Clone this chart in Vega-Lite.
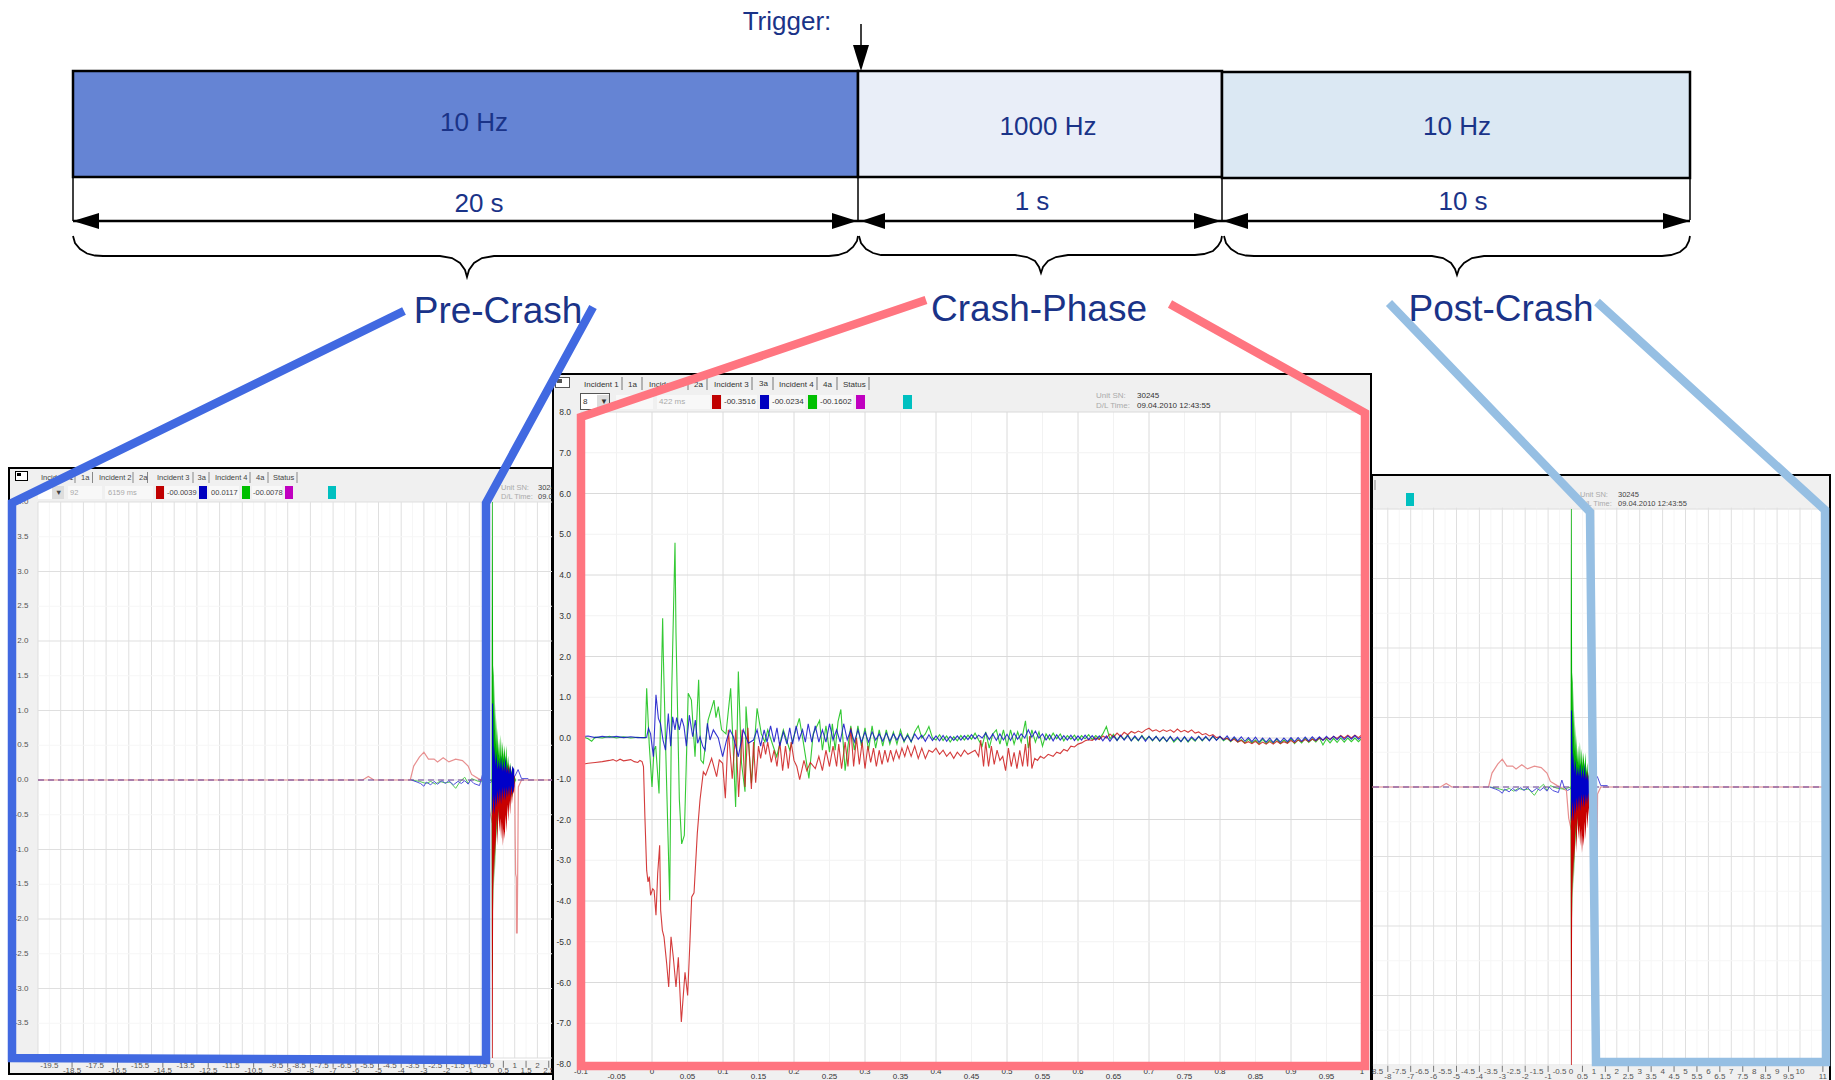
{"$schema":"https://vega.github.io/schema/vega-lite/v6.json","width":1835,"height":1080,"padding":0,"autosize":{"type":"none"},"background":"white","config":{"view":{"stroke":null},"axis":{"disable":true},"legend":{"disable":true},"text":{"font":"Liberation Sans"}},
"resolve":{"scale":{"x":"independent","y":"independent","color":"independent"}},
"datasets":{
"bars":[{"phase":"Pre-Crash","rate":"10 Hz","from":-20,"to":0,"top":71,"bottom":177},{"phase":"Crash-Phase","rate":"1000 Hz","from":0,"to":1,"top":71,"bottom":177},{"phase":"Post-Crash","rate":"10 Hz","from":1,"to":11,"top":72,"bottom":178}],
"drops":[{"t":-20,"v0":177,"v1":221},{"t":0,"v0":177,"v1":221},{"t":1,"v0":177,"v1":221},{"t":11,"v0":178,"v1":220}],
"dims":[{"from":-20,"to":0,"v":221},{"from":0,"to":1,"v":221},{"from":1,"to":11,"v":221}],
"trigger":[{"u":861,"v0":24,"v1":46}],
"heads":[{"id":"a","u":73,"lo":221,"hi":221},{"id":"a","u":99,"lo":213,"hi":229},{"id":"b","u":832,"lo":213,"hi":229},{"id":"b","u":857,"lo":221,"hi":221},{"id":"c","u":861,"lo":221,"hi":221},{"id":"c","u":885,"lo":213,"hi":229},{"id":"d","u":1194,"lo":213,"hi":229},{"id":"d","u":1221,"lo":221,"hi":221},{"id":"e","u":1223,"lo":221,"hi":221},{"id":"e","u":1248,"lo":213,"hi":229},{"id":"f","u":1663,"lo":213,"hi":229},{"id":"f","u":1690,"lo":221,"hi":221},{"id":"g","u":853,"lo":45,"hi":45},{"id":"g","u":861,"lo":45,"hi":71},{"id":"g","u":869,"lo":45,"hi":45}],
"braces":[{"id":"pre","u":73,"v":236},{"id":"pre","u":75,"v":243},{"id":"pre","u":80,"v":249},{"id":"pre","u":87,"v":253.5},{"id":"pre","u":95,"v":255.5},{"id":"pre","u":103,"v":256},{"id":"pre","u":440,"v":256},{"id":"pre","u":452,"v":258},{"id":"pre","u":460,"v":263},{"id":"pre","u":465,"v":270},{"id":"pre","u":467,"v":277},{"id":"pre","u":469,"v":270},{"id":"pre","u":474,"v":263},{"id":"pre","u":482,"v":258},{"id":"pre","u":494,"v":256},{"id":"pre","u":829,"v":256},{"id":"pre","u":838,"v":255},{"id":"pre","u":847,"v":252},{"id":"pre","u":853,"v":247},{"id":"pre","u":857,"v":241},{"id":"pre","u":858,"v":236},
{"id":"crash","u":859,"v":236},{"id":"crash","u":861,"v":243},{"id":"crash","u":866,"v":249},{"id":"crash","u":873,"v":253},{"id":"crash","u":881,"v":255},{"id":"crash","u":889,"v":255},{"id":"crash","u":1015,"v":255},{"id":"crash","u":1027,"v":257},{"id":"crash","u":1035,"v":261},{"id":"crash","u":1039,"v":267},{"id":"crash","u":1041,"v":273},{"id":"crash","u":1043,"v":267},{"id":"crash","u":1048,"v":261},{"id":"crash","u":1056,"v":257},{"id":"crash","u":1068,"v":255},{"id":"crash","u":1195,"v":255},{"id":"crash","u":1204,"v":254},{"id":"crash","u":1213,"v":251},{"id":"crash","u":1218,"v":246},{"id":"crash","u":1221,"v":241},{"id":"crash","u":1222,"v":236},
{"id":"post","u":1224,"v":236},{"id":"post","u":1226,"v":243},{"id":"post","u":1231,"v":249},{"id":"post","u":1238,"v":253.5},{"id":"post","u":1246,"v":255.5},{"id":"post","u":1254,"v":256},{"id":"post","u":1432,"v":256},{"id":"post","u":1443,"v":258},{"id":"post","u":1451,"v":263},{"id":"post","u":1455,"v":269},{"id":"post","u":1457,"v":275},{"id":"post","u":1459,"v":269},{"id":"post","u":1464,"v":263},{"id":"post","u":1472,"v":258},{"id":"post","u":1484,"v":256},{"id":"post","u":1662,"v":256},{"id":"post","u":1671,"v":255},{"id":"post","u":1680,"v":252},{"id":"post","u":1686,"v":247},{"id":"post","u":1689,"v":241},{"id":"post","u":1690,"v":236}],
"label26":[{"label":"Trigger:","u":787,"v":22},{"label":"10 Hz","u":474,"v":123},{"label":"1000 Hz","u":1048,"v":127},{"label":"10 Hz","u":1457,"v":127},{"label":"20 s","u":479,"v":204},{"label":"1 s","u":1032,"v":202},{"label":"10 s","u":1463,"v":202}],
"label37":[{"label":"Pre-Crash","u":498,"v":312},{"label":"Crash-Phase","u":1039,"v":310},{"label":"Post-Crash","u":1501,"v":310}],
"frames":[{"id":"L","u0":9,"u1":552,"v0":468,"v1":1074},{"id":"R","u0":1372,"u1":1830,"v0":475,"v1":1085},{"id":"M","u0":553,"u1":1371,"v0":374,"v1":1085}],
"rectsL":[{"part":"plot","u0":38,"u1":551,"v0":502,"v1":1060},{"part":"black","u0":15,"u1":28,"v0":471,"v1":481},{"part":"plot","u0":16,"u1":27,"v0":472,"v1":480},{"part":"black","u0":17,"u1":21,"v0":473,"v1":476},{"part":"plot","u0":38,"u1":64,"v0":486,"v1":499},{"part":"button","u0":52,"u1":64,"v0":486,"v1":499},{"part":"field","u0":68,"u1":102,"v0":486,"v1":499},{"part":"field","u0":105,"u1":153,"v0":486,"v1":499},{"part":"field","u0":165,"u1":197,"v0":486,"v1":499},{"part":"field","u0":209,"u1":239,"v0":486,"v1":499},{"part":"field","u0":252,"u1":282,"v0":486,"v1":499},{"part":"red","u0":156,"u1":164,"v0":486,"v1":499},{"part":"blue","u0":199,"u1":207,"v0":486,"v1":499},{"part":"green","u0":242,"u1":250,"v0":486,"v1":499},{"part":"magenta","u0":285,"u1":293,"v0":486,"v1":499},{"part":"teal","u0":328,"u1":336,"v0":486,"v1":499}],
"rectsR":[{"part":"plot","u0":1373,"u1":1826,"v0":509.5,"v1":1066},{"part":"teal","u0":1406,"u1":1414,"v0":493,"v1":506}],
"rectsM":[{"part":"plot","u0":581,"u1":1366,"v0":412,"v1":1066},{"part":"black","u0":555,"u1":570,"v0":377,"v1":388},{"part":"plot","u0":556,"u1":569,"v0":378,"v1":387},{"part":"black","u0":557,"u1":562,"v0":379,"v1":383},{"part":"black","u0":580,"u1":610,"v0":393,"v1":410},{"part":"plot","u0":581,"u1":609,"v0":394,"v1":409},{"part":"button","u0":597,"u1":609,"v0":395,"v1":408},{"part":"field","u0":616,"u1":653,"v0":395,"v1":409},{"part":"field","u0":657,"u1":710,"v0":395,"v1":409},{"part":"field","u0":722,"u1":757,"v0":395,"v1":409},{"part":"field","u0":770,"u1":805,"v0":395,"v1":409},{"part":"field","u0":818,"u1":853,"v0":395,"v1":409},{"part":"red","u0":712,"u1":721,"v0":395,"v1":409},{"part":"blue","u0":760,"u1":769,"v0":395,"v1":409},{"part":"green","u0":808,"u1":817,"v0":395,"v1":409},{"part":"magenta","u0":856,"u1":865,"v0":395,"v1":409},{"part":"teal","u0":903,"u1":912,"v0":395,"v1":409}],
"sepsL":[{"u":75},{"u":92.5},{"u":133},{"u":147.5},{"u":193},{"u":209},{"u":250},{"u":268},{"u":297}],
"sepsR":[{"u":1375}],
"sepsM":[{"u":622},{"u":642},{"u":688},{"u":707},{"u":752},{"u":773},{"u":817},{"u":837},{"u":869}],
"textL":[{"label":"Incident 1","u":41,"v":478,"tone":"dark"},{"label":"1a","u":81,"v":478,"tone":"dark"},{"label":"Incident 2","u":99,"v":478,"tone":"dark"},{"label":"2a","u":139,"v":478,"tone":"dark"},{"label":"Incident 3","u":157,"v":478,"tone":"dark"},{"label":"3a","u":197.5,"v":478,"tone":"dark"},{"label":"Incident 4","u":215,"v":478,"tone":"dark"},{"label":"4a","u":256,"v":478,"tone":"dark"},{"label":"Status","u":273,"v":478,"tone":"dark"},{"label":"▼","u":55,"v":492.5,"tone":"dark"},{"label":"92","u":70,"v":492.5,"tone":"grey"},{"label":"6159 ms","u":108,"v":492.5,"tone":"grey"},{"label":"-00.0039","u":167,"v":492.5,"tone":"dark"},{"label":"00.0117","u":211,"v":492.5,"tone":"dark"},{"label":"-00.0078","u":253,"v":492.5,"tone":"dark"},{"label":"Unit SN:","u":501,"v":488,"tone":"grey"},{"label":"30245","u":538,"v":488,"tone":"dark"},{"label":"D/L Time:","u":501,"v":497,"tone":"grey"},{"label":"09.04.2010 12:43:55","u":538,"v":497,"tone":"dark"}],
"textR":[{"label":"Unit SN:","u":1580,"v":495,"tone":"grey"},{"label":"30245","u":1618,"v":495,"tone":"dark"},{"label":"D/L Time:","u":1580,"v":504,"tone":"grey"},{"label":"09.04.2010 12:43:55","u":1618,"v":504,"tone":"dark"}],
"textM":[{"label":"Incident 1","u":584,"v":384.5,"tone":"dark"},{"label":"1a","u":628,"v":384.5,"tone":"dark"},{"label":"Incident 2","u":649,"v":384.5,"tone":"dark"},{"label":"2a","u":694,"v":384.5,"tone":"dark"},{"label":"Incident 3","u":714,"v":384.5,"tone":"dark"},{"label":"3a","u":759,"v":384,"tone":"dark"},{"label":"Incident 4","u":779,"v":384.5,"tone":"dark"},{"label":"4a","u":823,"v":384.5,"tone":"dark"},{"label":"Status","u":843,"v":384.5,"tone":"dark"},{"label":"8","u":583,"v":401.5,"tone":"dark"},{"label":"▼","u":600,"v":402,"tone":"dark"},{"label":"422 ms","u":659,"v":402,"tone":"grey"},{"label":"-00.3516","u":724,"v":402,"tone":"dark"},{"label":"-00.0234","u":772,"v":402,"tone":"dark"},{"label":"-00.1602","u":820,"v":402,"tone":"dark"},{"label":"Unit SN:","u":1096,"v":396,"tone":"grey"},{"label":"30245","u":1137,"v":396,"tone":"dark"},{"label":"D/L Time:","u":1096,"v":406,"tone":"grey"},{"label":"09.04.2010 12:43:55","u":1137,"v":406,"tone":"dark"}],
"longTicks":[{"t":-20,"kind":"major","row":"none"},{"t":-19.5,"kind":"minor","row":"hi"},{"t":-19,"kind":"major","row":"none"},{"t":-18.5,"kind":"minor","row":"low"},{"t":-18,"kind":"major","row":"none"},{"t":-17.5,"kind":"minor","row":"hi"},{"t":-17,"kind":"major","row":"none"},{"t":-16.5,"kind":"minor","row":"low"},{"t":-16,"kind":"major","row":"none"},{"t":-15.5,"kind":"minor","row":"hi"},{"t":-15,"kind":"major","row":"none"},{"t":-14.5,"kind":"minor","row":"low"},{"t":-14,"kind":"major","row":"none"},{"t":-13.5,"kind":"minor","row":"hi"},{"t":-13,"kind":"major","row":"none"},{"t":-12.5,"kind":"minor","row":"low"},{"t":-12,"kind":"major","row":"none"},{"t":-11.5,"kind":"minor","row":"hi"},{"t":-11,"kind":"major","row":"none"},{"t":-10.5,"kind":"minor","row":"low"},{"t":-10,"kind":"major","row":"none"},{"t":-9.5,"kind":"minor","row":"hi"},{"t":-9,"kind":"major","row":"low"},{"t":-8.5,"kind":"minor","row":"hi"},{"t":-8,"kind":"major","row":"low"},{"t":-7.5,"kind":"minor","row":"hi"},{"t":-7,"kind":"major","row":"low"},{"t":-6.5,"kind":"minor","row":"hi"},{"t":-6,"kind":"major","row":"low"},{"t":-5.5,"kind":"minor","row":"hi"},{"t":-5,"kind":"major","row":"low"},{"t":-4.5,"kind":"minor","row":"hi"},{"t":-4,"kind":"major","row":"low"},{"t":-3.5,"kind":"minor","row":"hi"},{"t":-3,"kind":"major","row":"low"},{"t":-2.5,"kind":"minor","row":"hi"},{"t":-2,"kind":"major","row":"low"},{"t":-1.5,"kind":"minor","row":"hi"},{"t":-1,"kind":"major","row":"low"},{"t":-0.5,"kind":"minor","row":"hi"},{"t":0,"kind":"major","row":"hi"},{"t":0.5,"kind":"minor","row":"low"},{"t":1,"kind":"major","row":"hi"},{"t":1.5,"kind":"minor","row":"low"},{"t":2,"kind":"major","row":"hi"},{"t":2.5,"kind":"minor","row":"low"},{"t":3,"kind":"major","row":"hi"},{"t":3.5,"kind":"minor","row":"low"},{"t":4,"kind":"major","row":"hi"},{"t":4.5,"kind":"minor","row":"low"},{"t":5,"kind":"major","row":"hi"},{"t":5.5,"kind":"minor","row":"low"},{"t":6,"kind":"major","row":"hi"},{"t":6.5,"kind":"minor","row":"low"},{"t":7,"kind":"major","row":"hi"},{"t":7.5,"kind":"minor","row":"low"},{"t":8,"kind":"major","row":"hi"},{"t":8.5,"kind":"minor","row":"low"},{"t":9,"kind":"major","row":"hi"},{"t":9.5,"kind":"minor","row":"low"},{"t":10,"kind":"major","row":"hi"},{"t":10.5,"kind":"minor","row":"none"},{"t":11,"kind":"major","row":"low"}],
"longY":[{"g":4,"lab":"4.0","kind":"major"},{"g":3.5,"lab":"3.5","kind":"minor"},{"g":3,"lab":"3.0","kind":"major"},{"g":2.5,"lab":"2.5","kind":"minor"},{"g":2,"lab":"2.0","kind":"major"},{"g":1.5,"lab":"1.5","kind":"minor"},{"g":1,"lab":"1.0","kind":"major"},{"g":0.5,"lab":"0.5","kind":"minor"},{"g":0,"lab":"0.0","kind":"major"},{"g":-0.5,"lab":"-0.5","kind":"minor"},{"g":-1,"lab":"-1.0","kind":"major"},{"g":-1.5,"lab":"-1.5","kind":"minor"},{"g":-2,"lab":"-2.0","kind":"major"},{"g":-2.5,"lab":"-2.5","kind":"minor"},{"g":-3,"lab":"-3.0","kind":"major"},{"g":-3.5,"lab":"-3.5","kind":"minor"},{"g":-4,"lab":"-4.0","kind":"major"}],
"midTicks":[{"t":-0.1,"kind":"major","row":"hi"},{"t":-0.05,"kind":"minor","row":"low"},{"t":0,"kind":"major","row":"hi"},{"t":0.05,"kind":"minor","row":"low"},{"t":0.1,"kind":"major","row":"hi"},{"t":0.15,"kind":"minor","row":"low"},{"t":0.2,"kind":"major","row":"hi"},{"t":0.25,"kind":"minor","row":"low"},{"t":0.3,"kind":"major","row":"hi"},{"t":0.35,"kind":"minor","row":"low"},{"t":0.4,"kind":"major","row":"hi"},{"t":0.45,"kind":"minor","row":"low"},{"t":0.5,"kind":"major","row":"hi"},{"t":0.55,"kind":"minor","row":"low"},{"t":0.6,"kind":"major","row":"hi"},{"t":0.65,"kind":"minor","row":"low"},{"t":0.7,"kind":"major","row":"hi"},{"t":0.75,"kind":"minor","row":"low"},{"t":0.8,"kind":"major","row":"hi"},{"t":0.85,"kind":"minor","row":"low"},{"t":0.9,"kind":"major","row":"hi"},{"t":0.95,"kind":"minor","row":"low"},{"t":1,"kind":"major","row":"hi"}],
"midY":[{"g":8,"lab":"8.0","kind":"major"},{"g":7,"lab":"7.0","kind":"minor"},{"g":6,"lab":"6.0","kind":"major"},{"g":5,"lab":"5.0","kind":"minor"},{"g":4,"lab":"4.0","kind":"major"},{"g":3,"lab":"3.0","kind":"minor"},{"g":2,"lab":"2.0","kind":"major"},{"g":1,"lab":"1.0","kind":"minor"},{"g":0,"lab":"0.0","kind":"major"},{"g":-1,"lab":"-1.0","kind":"minor"},{"g":-2,"lab":"-2.0","kind":"major"},{"g":-3,"lab":"-3.0","kind":"minor"},{"g":-4,"lab":"-4.0","kind":"major"},{"g":-5,"lab":"-5.0","kind":"minor"},{"g":-6,"lab":"-6.0","kind":"major"},{"g":-7,"lab":"-7.0","kind":"minor"},{"g":-8,"lab":"-8.0","kind":"major"}],
"recPale":[{"t":-20,"g":0},{"t":-5.7,"g":0},{"t":-5.45,"g":0.05},{"t":-5.2,"g":0},{"t":-3.6,"g":0},{"t":-3.45,"g":0.2},{"t":-3.2,"g":0.33},{"t":-3,"g":0.4},{"t":-2.8,"g":0.3},{"t":-2.55,"g":0.3},{"t":-2.4,"g":0.26},{"t":-2.15,"g":0.32},{"t":-1.9,"g":0.26},{"t":-1.6,"g":0.3},{"t":-1.3,"g":0.28},{"t":-1.05,"g":0.2},{"t":-0.9,"g":0.08},{"t":-0.6,"g":0.02},{"t":-0.2,"g":-0.05},{"t":-0.1,"g":-0.45},{"t":0,"g":-0.6},{"t":1,"g":-0.05},{"t":1.02,"g":-0.8},{"t":1.04,"g":-1.35},{"t":1.07,"g":-1.4},{"t":1.08,"g":-2.2},{"t":1.11,"g":-2.2},{"t":1.14,"g":-1},{"t":1.16,"g":-0.1},{"t":1.3,"g":0},{"t":11,"g":0}],
"recFlat":[{"t":-20,"g":0},{"t":-3.55,"g":0},{"t":1.6,"g":0},{"t":11,"g":0}],
"recBlue":[{"t":-3.55,"g":0},{"t":-3.3,"g":-0.03},{"t":-3.15,"g":-0.05},{"t":-3,"g":-0.09},{"t":-2.9,"g":-0.03},{"t":-2.7,"g":-0.07},{"t":-2.55,"g":-0.02},{"t":-2.4,"g":-0.06},{"t":-2.2,"g":-0.01},{"t":-2.05,"g":-0.05},{"t":-1.9,"g":-0.01},{"t":-1.7,"g":-0.07},{"t":-1.5,"g":-0.02},{"t":-1.35,"g":-0.05},{"t":-1.2,"g":-0.01},{"t":-1.05,"g":-0.06},{"t":-0.95,"g":0},{"t":-0.8,"g":-0.05},{"t":-0.55,"g":-0.08},{"t":-0.4,"g":0.1},{"t":-0.3,"g":0},{"t":-0.15,"g":-0.05},{"t":0,"g":-0.02},{"t":1,"g":0.05},{"t":1.15,"g":0.15},{"t":1.3,"g":0.02},{"t":1.6,"g":0.02}],
"recGreen":[{"t":-3.55,"g":0},{"t":-3.2,"g":-0.02},{"t":-2.9,"g":-0.05},{"t":-2.7,"g":-0.02},{"t":-2.5,"g":-0.06},{"t":-2.3,"g":-0.02},{"t":-2.1,"g":-0.04},{"t":-1.85,"g":-0.03},{"t":-1.6,"g":-0.12},{"t":-1.4,"g":-0.02},{"t":-1.2,"g":0.04},{"t":-1.05,"g":-0.05},{"t":-0.9,"g":0.02},{"t":-0.6,"g":-0.02},{"t":-0.3,"g":-0.03},{"t":0,"g":0}],
"envG":[{"t":-0.02,"lo":0,"hi":0},{"t":0,"lo":-2.7,"hi":4},{"t":0.03,"lo":-2.8,"hi":4},{"t":0.05,"lo":-1,"hi":1.5},{"t":0.07,"lo":-1.9,"hi":1.65},{"t":0.09,"lo":-1,"hi":0.9},{"t":0.11,"lo":-1.5,"hi":1.45},{"t":0.13,"lo":-0.8,"hi":0.7},{"t":0.15,"lo":-1.3,"hi":1.1},{"t":0.17,"lo":-0.6,"hi":0.5},{"t":0.19,"lo":-0.9,"hi":0.9},{"t":0.22,"lo":-0.5,"hi":0.4},{"t":0.25,"lo":-0.8,"hi":0.75},{"t":0.28,"lo":-0.4,"hi":0.35},{"t":0.31,"lo":-0.6,"hi":0.6},{"t":0.35,"lo":-0.3,"hi":0.3},{"t":0.39,"lo":-0.45,"hi":0.65},{"t":0.43,"lo":-0.3,"hi":0.3},{"t":0.47,"lo":-0.5,"hi":0.55},{"t":0.51,"lo":-0.25,"hi":0.3},{"t":0.55,"lo":-0.55,"hi":0.5},{"t":0.59,"lo":-0.25,"hi":0.25},{"t":0.63,"lo":-0.45,"hi":0.5},{"t":0.67,"lo":-0.2,"hi":0.2},{"t":0.71,"lo":-0.35,"hi":0.35},{"t":0.75,"lo":-0.15,"hi":0.15},{"t":0.8,"lo":-0.3,"hi":0.25},{"t":0.85,"lo":-0.1,"hi":0.1},{"t":0.9,"lo":-0.25,"hi":0.2},{"t":0.95,"lo":-0.05,"hi":0.05},{"t":1,"lo":-0.05,"hi":0.05},{"t":1.05,"lo":0,"hi":0}],
"envR":[{"t":-0.01,"lo":-0.5,"hi":-0.4},{"t":0,"lo":-4,"hi":-0.1},{"t":0.03,"lo":-4,"hi":0},{"t":0.04,"lo":-2.6,"hi":0.1},{"t":0.06,"lo":-1.1,"hi":0.15},{"t":0.08,"lo":-1.6,"hi":0.2},{"t":0.1,"lo":-0.9,"hi":0.05},{"t":0.12,"lo":-1.4,"hi":0.2},{"t":0.14,"lo":-0.8,"hi":0.1},{"t":0.16,"lo":-1.1,"hi":0.2},{"t":0.2,"lo":-0.5,"hi":0.05},{"t":0.24,"lo":-0.95,"hi":0.2},{"t":0.28,"lo":-0.4,"hi":0.05},{"t":0.32,"lo":-0.75,"hi":0.2},{"t":0.36,"lo":-0.55,"hi":0.05},{"t":0.4,"lo":-0.85,"hi":0.15},{"t":0.44,"lo":-0.6,"hi":0.05},{"t":0.48,"lo":-0.95,"hi":0.2},{"t":0.52,"lo":-0.7,"hi":0.05},{"t":0.56,"lo":-0.85,"hi":0.2},{"t":0.6,"lo":-0.5,"hi":0.05},{"t":0.64,"lo":-0.75,"hi":0.2},{"t":0.68,"lo":-0.35,"hi":0.05},{"t":0.72,"lo":-0.6,"hi":0.25},{"t":0.76,"lo":-0.3,"hi":0.05},{"t":0.8,"lo":-0.5,"hi":0.2},{"t":0.84,"lo":-0.2,"hi":0.05},{"t":0.88,"lo":-0.35,"hi":0.1},{"t":0.92,"lo":-0.15,"hi":0.02},{"t":0.96,"lo":-0.2,"hi":0.08},{"t":1,"lo":-0.05,"hi":0.05}],
"envB":[{"t":0,"lo":-0.5,"hi":1.1},{"t":0.04,"lo":-0.4,"hi":1.1},{"t":0.06,"lo":-0.2,"hi":0.65},{"t":0.09,"lo":-0.35,"hi":0.3},{"t":0.12,"lo":-0.5,"hi":0.5},{"t":0.16,"lo":-0.2,"hi":0.2},{"t":0.2,"lo":-0.4,"hi":0.4},{"t":0.25,"lo":-0.15,"hi":0.15},{"t":0.3,"lo":-0.35,"hi":0.3},{"t":0.35,"lo":-0.12,"hi":0.15},{"t":0.4,"lo":-0.35,"hi":0.35},{"t":0.45,"lo":-0.1,"hi":0.12},{"t":0.5,"lo":-0.3,"hi":0.3},{"t":0.55,"lo":-0.1,"hi":0.12},{"t":0.6,"lo":-0.3,"hi":0.35},{"t":0.65,"lo":-0.1,"hi":0.1},{"t":0.7,"lo":-0.25,"hi":0.2},{"t":0.75,"lo":-0.08,"hi":0.08},{"t":0.8,"lo":-0.25,"hi":0.22},{"t":0.85,"lo":-0.08,"hi":0.08},{"t":0.9,"lo":-0.2,"hi":0.2},{"t":0.98,"lo":-0.1,"hi":0.15}],
"midRed":[{"t":-0.1,"g":-0.65},{"t":-0.09,"g":-0.62},{"t":-0.08,"g":-0.6},{"t":-0.07,"g":-0.58},{"t":-0.06,"g":-0.55},{"t":-0.055,"g":-0.53},{"t":-0.05,"g":-0.57},{"t":-0.045,"g":-0.52},{"t":-0.04,"g":-0.56},{"t":-0.03,"g":-0.53},{"t":-0.025,"g":-0.58},{"t":-0.02,"g":-0.6},{"t":-0.017,"g":-0.55},{"t":-0.014,"g":-0.58},{"t":-0.012,"g":-0.7},{"t":-0.01,"g":-1.93},{"t":-0.0075,"g":-3.25},{"t":-0.0056,"g":-3.53},{"t":-0.0038,"g":-3.4},{"t":-0.002,"g":-3.86},{"t":0.001,"g":-3.7},{"t":0.003,"g":-3.74},{"t":0.0056,"g":-4.35},{"t":0.008,"g":-3.33},{"t":0.0108,"g":-2.63},{"t":0.0122,"g":-4.23},{"t":0.0146,"g":-4.72},{"t":0.0169,"g":-4.88},{"t":0.0207,"g":-5.54},{"t":0.0235,"g":-6.11},{"t":0.0268,"g":-4.88},{"t":0.03,"g":-5.38},{"t":0.0338,"g":-6.11},{"t":0.0371,"g":-5.38},{"t":0.0413,"g":-6.97},{"t":0.0465,"g":-5.75},{"t":0.0502,"g":-6.32},{"t":0.0535,"g":-4.97},{"t":0.0559,"g":-3.9},{"t":0.0592,"g":-3.8},{"t":0.0638,"g":-2.34},{"t":0.0676,"g":-1.52},{"t":0.0723,"g":-0.83},{"t":0.0756,"g":-0.91},{"t":0.084,"g":-0.5},{"t":0.091,"g":-0.95},{"t":0.0948,"g":-0.54},{"t":0.0995,"g":-0.62},{"t":0.1033,"g":-1.48},{"t":0.1075,"g":0.2},{"t":0.113,"g":-1},{"t":0.118,"g":0.2},{"t":0.122,"g":-1.45},{"t":0.127,"g":0.2},{"t":0.131,"g":-1.2},{"t":0.135,"g":0.25},{"t":0.14,"g":-1.25},{"t":0.143,"g":-0.1},{"t":0.146,"g":-1.1},{"t":0.15,"g":-0.2},{"t":0.153,"g":-0.5},{"t":0.157,"g":-0.1},{"t":0.16,"g":-0.4},{"t":0.163,"g":-0.1},{"t":0.168,"g":-0.6},{"t":0.172,"g":-0.3},{"t":0.176,"g":-0.7},{"t":0.18,"g":-0.1},{"t":0.184,"g":-0.8},{"t":0.188,"g":-0.2},{"t":0.192,"g":-0.75},{"t":0.196,"g":-0.1},{"t":0.2,"g":-0.55},{"t":0.204,"g":-0.7},{"t":0.208,"g":-1.02},{"t":0.214,"g":-0.55},{"t":0.218,"g":-0.8},{"t":0.223,"g":-0.6},{"t":0.23,"g":-0.75},{"t":0.235,"g":-0.45},{"t":0.24,"g":-0.8},{"t":0.245,"g":-0.3},{"t":0.25,"g":-0.7},{"t":0.255,"g":-0.2},{"t":0.26,"g":-0.7},{"t":0.263,"g":-0.15},{"t":0.267,"g":-0.75},{"t":0.272,"g":-0.1},{"t":0.276,"g":-0.7},{"t":0.28,"g":0.25},{"t":0.284,"g":-0.7},{"t":0.288,"g":0},{"t":0.292,"g":-0.65},{"t":0.296,"g":-0.1},{"t":0.3,"g":-0.75},{"t":0.304,"g":-0.2},{"t":0.308,"g":-0.6},{"t":0.312,"g":-0.25},{"t":0.316,"g":-0.7},{"t":0.32,"g":-0.3},{"t":0.324,"g":-0.65},{"t":0.328,"g":-0.3},{"t":0.332,"g":-0.6},{"t":0.336,"g":-0.3},{"t":0.34,"g":-0.55},{"t":0.344,"g":-0.3},{"t":0.348,"g":-0.5},{"t":0.352,"g":-0.25},{"t":0.356,"g":-0.45},{"t":0.36,"g":-0.2},{"t":0.365,"g":-0.45},{"t":0.37,"g":-0.2},{"t":0.375,"g":-0.5},{"t":0.38,"g":-0.25},{"t":0.385,"g":-0.5},{"t":0.39,"g":-0.3},{"t":0.395,"g":-0.35},{"t":0.4,"g":-0.25},{"t":0.405,"g":-0.4},{"t":0.41,"g":-0.3},{"t":0.415,"g":-0.45},{"t":0.42,"g":-0.35},{"t":0.425,"g":-0.5},{"t":0.43,"g":-0.35},{"t":0.435,"g":-0.45},{"t":0.44,"g":-0.3},{"t":0.445,"g":-0.4},{"t":0.45,"g":-0.35},{"t":0.455,"g":-0.3},{"t":0.46,"g":-0.45},{"t":0.463,"g":-0.05},{"t":0.467,"g":-0.7},{"t":0.47,"g":-0.1},{"t":0.474,"g":-0.7},{"t":0.478,"g":-0.2},{"t":0.482,"g":-0.65},{"t":0.486,"g":-0.3},{"t":0.49,"g":-0.55},{"t":0.494,"g":-0.45},{"t":0.498,"g":-0.8},{"t":0.502,"g":-0.25},{"t":0.506,"g":-0.7},{"t":0.51,"g":-0.35},{"t":0.514,"g":-0.75},{"t":0.518,"g":-0.3},{"t":0.522,"g":-0.7},{"t":0.526,"g":-0.15},{"t":0.529,"g":-0.7},{"t":0.532,"g":0.05},{"t":0.535,"g":-0.75},{"t":0.539,"g":-0.5},{"t":0.543,"g":-0.55},{"t":0.547,"g":-0.45},{"t":0.552,"g":-0.5},{"t":0.558,"g":-0.4},{"t":0.565,"g":-0.45},{"t":0.57,"g":-0.35},{"t":0.575,"g":-0.38},{"t":0.58,"g":-0.28},{"t":0.585,"g":-0.32},{"t":0.59,"g":-0.2},{"t":0.595,"g":-0.22},{"t":0.6,"g":-0.15},{"t":0.605,"g":-0.12},{"t":0.61,"g":-0.07},{"t":0.615,"g":-0.04},{"t":0.62,"g":-0.06},{"t":0.625,"g":0},{"t":0.63,"g":-0.04},{"t":0.635,"g":0.05},{"t":0.64,"g":0},{"t":0.645,"g":0.1},{"t":0.65,"g":0.02},{"t":0.655,"g":0.12},{"t":0.66,"g":0.04},{"t":0.665,"g":0.14},{"t":0.67,"g":0.08},{"t":0.675,"g":0.16},{"t":0.68,"g":0.12},{"t":0.685,"g":0.17},{"t":0.69,"g":0.13},{"t":0.695,"g":0.2},{"t":0.7,"g":0.24},{"t":0.705,"g":0.17},{"t":0.71,"g":0.2},{"t":0.715,"g":0.15},{"t":0.72,"g":0.2},{"t":0.725,"g":0.16},{"t":0.73,"g":0.2},{"t":0.735,"g":0.14},{"t":0.74,"g":0.22},{"t":0.745,"g":0.15},{"t":0.75,"g":0.19},{"t":0.755,"g":0.14},{"t":0.76,"g":0.2},{"t":0.765,"g":0.12},{"t":0.77,"g":0.15},{"t":0.775,"g":0.08},{"t":0.78,"g":0.11},{"t":0.785,"g":0.05},{"t":0.79,"g":0.08},{"t":0.795,"g":0.01},{"t":0.8,"g":0.03},{"t":0.805,"g":-0.03},{"t":0.81,"g":-0.01},{"t":0.815,"g":-0.07},{"t":0.82,"g":-0.03},{"t":0.825,"g":-0.1},{"t":0.83,"g":-0.06},{"t":0.835,"g":-0.13},{"t":0.84,"g":-0.09},{"t":0.845,"g":-0.14},{"t":0.85,"g":-0.08},{"t":0.855,"g":-0.16},{"t":0.86,"g":-0.1},{"t":0.865,"g":-0.15},{"t":0.87,"g":-0.09},{"t":0.875,"g":-0.15},{"t":0.88,"g":-0.08},{"t":0.885,"g":-0.14},{"t":0.89,"g":-0.09},{"t":0.895,"g":-0.13},{"t":0.9,"g":-0.06},{"t":0.905,"g":-0.12},{"t":0.91,"g":-0.05},{"t":0.915,"g":-0.09},{"t":0.92,"g":-0.04},{"t":0.925,"g":-0.09},{"t":0.93,"g":-0.03},{"t":0.935,"g":-0.07},{"t":0.94,"g":0},{"t":0.945,"g":-0.05},{"t":0.95,"g":0.01},{"t":0.955,"g":-0.03},{"t":0.96,"g":0.04},{"t":0.965,"g":-0.01},{"t":0.97,"g":0.06},{"t":0.975,"g":0},{"t":0.98,"g":0.07},{"t":0.985,"g":0},{"t":0.99,"g":0.07},{"t":0.995,"g":0.01},{"t":1,"g":0.08}],
"midGreen":[{"t":-0.1,"g":0.05},{"t":-0.09,"g":-0.02},{"t":-0.085,"g":-0.08},{"t":-0.08,"g":0.02},{"t":-0.07,"g":0},{"t":-0.06,"g":0.04},{"t":-0.05,"g":0},{"t":-0.04,"g":0.03},{"t":-0.03,"g":0},{"t":-0.02,"g":0.02},{"t":-0.0095,"g":0},{"t":-0.0075,"g":1.22},{"t":-0.004,"g":-0.13},{"t":0,"g":-1.2},{"t":0.0028,"g":-0.3},{"t":0.0052,"g":-0.2},{"t":0.0099,"g":-1.36},{"t":0.015,"g":2.94},{"t":0.016,"g":2},{"t":0.0192,"g":-0.2},{"t":0.0249,"g":-3.98},{"t":0.0277,"g":1.1},{"t":0.0324,"g":4.79},{"t":0.0338,"g":2.57},{"t":0.0385,"g":-1.5},{"t":0.0418,"g":-2.6},{"t":0.0455,"g":-2.39},{"t":0.051,"g":1.1},{"t":0.0555,"g":0.93},{"t":0.0606,"g":-0.46},{"t":0.0657,"g":1.43},{"t":0.0688,"g":-0.54},{"t":0.0723,"g":-0.62},{"t":0.079,"g":0.44},{"t":0.0873,"g":0.93},{"t":0.0901,"g":0.5},{"t":0.0934,"g":0.77},{"t":0.098,"g":0.2},{"t":0.1042,"g":0.1},{"t":0.1108,"g":1.22},{"t":0.1178,"g":-1.69},{"t":0.1216,"g":1.63},{"t":0.126,"g":-0.6},{"t":0.131,"g":-1.32},{"t":0.1324,"g":0.77},{"t":0.14,"g":-1.11},{"t":0.148,"g":0.73},{"t":0.154,"g":0.1},{"t":0.159,"g":-0.1},{"t":0.163,"g":0.2},{"t":0.1756,"g":-0.46},{"t":0.185,"g":0.2},{"t":0.194,"g":-0.3},{"t":0.2075,"g":0.48},{"t":0.2131,"g":-0.1},{"t":0.221,"g":-0.99},{"t":0.227,"g":0.1},{"t":0.236,"g":0.43},{"t":0.24,"g":-0.3},{"t":0.245,"g":0.3},{"t":0.25,"g":-0.35},{"t":0.254,"g":0.35},{"t":0.258,"g":-0.3},{"t":0.262,"g":0.4},{"t":0.266,"g":0.7},{"t":0.272,"g":-0.8},{"t":0.276,"g":-0.2},{"t":0.28,"g":0.3},{"t":0.285,"g":-0.3},{"t":0.29,"g":0.3},{"t":0.295,"g":-0.2},{"t":0.3,"g":0.25},{"t":0.305,"g":-0.3},{"t":0.31,"g":0.3},{"t":0.315,"g":-0.25},{"t":0.32,"g":0.2},{"t":0.325,"g":-0.2},{"t":0.33,"g":0.2},{"t":0.335,"g":-0.15},{"t":0.34,"g":0.15},{"t":0.345,"g":-0.15},{"t":0.35,"g":0.2},{"t":0.355,"g":-0.1},{"t":0.36,"g":0.1},{"t":0.365,"g":-0.1},{"t":0.37,"g":0.15},{"t":0.375,"g":0.3},{"t":0.38,"g":0},{"t":0.385,"g":0.1},{"t":0.39,"g":0.28},{"t":0.395,"g":0},{"t":0.4,"g":-0.05},{"t":0.405,"g":0.08},{"t":0.41,"g":-0.06},{"t":0.415,"g":0.05},{"t":0.42,"g":-0.1},{"t":0.425,"g":0.03},{"t":0.43,"g":-0.07},{"t":0.435,"g":0.06},{"t":0.44,"g":-0.05},{"t":0.445,"g":0.07},{"t":0.45,"g":-0.03},{"t":0.455,"g":0.12},{"t":0.46,"g":-0.05},{"t":0.465,"g":-0.2},{"t":0.47,"g":0.15},{"t":0.475,"g":-0.25},{"t":0.48,"g":0.1},{"t":0.485,"g":0.2},{"t":0.49,"g":-0.15},{"t":0.495,"g":0.2},{"t":0.5,"g":-0.2},{"t":0.505,"g":0.2},{"t":0.51,"g":-0.15},{"t":0.515,"g":0.15},{"t":0.52,"g":-0.1},{"t":0.526,"g":0.42},{"t":0.53,"g":-0.25},{"t":0.535,"g":0.2},{"t":0.54,"g":-0.1},{"t":0.545,"g":0.15},{"t":0.55,"g":-0.2},{"t":0.555,"g":0.1},{"t":0.56,"g":-0.04},{"t":0.565,"g":0.12},{"t":0.57,"g":-0.02},{"t":0.575,"g":0.1},{"t":0.58,"g":-0.07},{"t":0.585,"g":0.06},{"t":0.59,"g":-0.03},{"t":0.595,"g":0.07},{"t":0.6,"g":-0.06},{"t":0.605,"g":0.06},{"t":0.61,"g":-0.02},{"t":0.615,"g":0.08},{"t":0.62,"g":-0.04},{"t":0.625,"g":0.06},{"t":0.63,"g":-0.02},{"t":0.635,"g":0.1},{"t":0.64,"g":0.28},{"t":0.645,"g":-0.02},{"t":0.65,"g":0.09},{"t":0.655,"g":-0.06},{"t":0.66,"g":0.06},{"t":0.665,"g":-0.04},{"t":0.67,"g":0.08},{"t":0.675,"g":-0.07},{"t":0.68,"g":0.03},{"t":0.685,"g":-0.07},{"t":0.69,"g":0.06},{"t":0.695,"g":-0.05},{"t":0.7,"g":0.04},{"t":0.705,"g":-0.07},{"t":0.71,"g":0.04},{"t":0.715,"g":-0.08},{"t":0.72,"g":0.02},{"t":0.725,"g":-0.09},{"t":0.73,"g":0.03},{"t":0.735,"g":-0.1},{"t":0.74,"g":-0.01},{"t":0.745,"g":-0.09},{"t":0.75,"g":0.02},{"t":0.755,"g":-0.1},{"t":0.76,"g":0},{"t":0.765,"g":-0.08},{"t":0.77,"g":0.04},{"t":0.775,"g":-0.07},{"t":0.78,"g":0.02},{"t":0.785,"g":-0.06},{"t":0.79,"g":0.04},{"t":0.795,"g":-0.05},{"t":0.8,"g":0.03},{"t":0.805,"g":-0.07},{"t":0.81,"g":0},{"t":0.815,"g":-0.09},{"t":0.82,"g":0},{"t":0.825,"g":-0.1},{"t":0.83,"g":-0.04},{"t":0.835,"g":-0.12},{"t":0.84,"g":-0.03},{"t":0.845,"g":-0.12},{"t":0.85,"g":-0.05},{"t":0.855,"g":-0.14},{"t":0.86,"g":-0.03},{"t":0.865,"g":-0.14},{"t":0.87,"g":-0.05},{"t":0.875,"g":-0.13},{"t":0.88,"g":-0.03},{"t":0.885,"g":-0.14},{"t":0.89,"g":-0.05},{"t":0.895,"g":-0.12},{"t":0.9,"g":-0.02},{"t":0.905,"g":-0.14},{"t":0.91,"g":-0.04},{"t":0.915,"g":-0.12},{"t":0.92,"g":-0.01},{"t":0.925,"g":-0.11},{"t":0.93,"g":-0.02},{"t":0.935,"g":-0.1},{"t":0.94,"g":0},{"t":0.945,"g":-0.17},{"t":0.95,"g":-0.02},{"t":0.955,"g":-0.12},{"t":0.96,"g":-0.01},{"t":0.965,"g":-0.11},{"t":0.97,"g":0},{"t":0.975,"g":-0.1},{"t":0.98,"g":0},{"t":0.985,"g":-0.09},{"t":0.99,"g":0},{"t":0.995,"g":-0.09},{"t":1,"g":0}],
"midBlue":[{"t":-0.1,"g":0.03},{"t":-0.09,"g":0.05},{"t":-0.08,"g":0.01},{"t":-0.07,"g":0.04},{"t":-0.06,"g":0.02},{"t":-0.05,"g":0.04},{"t":-0.04,"g":0.01},{"t":-0.03,"g":0.03},{"t":-0.02,"g":0.01},{"t":-0.012,"g":0.01},{"t":-0.0075,"g":0.02},{"t":-0.005,"g":0.24},{"t":-0.002,"g":0.1},{"t":0.002,"g":-0.46},{"t":0.0056,"g":1.06},{"t":0.009,"g":0.48},{"t":0.012,"g":0.35},{"t":0.0155,"g":-0.05},{"t":0.019,"g":-0.3},{"t":0.023,"g":0.6},{"t":0.0263,"g":-0.2},{"t":0.0291,"g":0.52},{"t":0.0324,"g":0.2},{"t":0.0347,"g":0.5},{"t":0.0385,"g":0.2},{"t":0.0418,"g":0.48},{"t":0.0451,"g":0.28},{"t":0.0484,"g":-0.2},{"t":0.0526,"g":0.56},{"t":0.0573,"g":0.03},{"t":0.061,"g":0.44},{"t":0.0643,"g":-0.13},{"t":0.0676,"g":0.03},{"t":0.0714,"g":-0.2},{"t":0.0747,"g":-0.3},{"t":0.078,"g":0.36},{"t":0.0817,"g":-0.05},{"t":0.0864,"g":0.2},{"t":0.0934,"g":0},{"t":0.0995,"g":-0.46},{"t":0.105,"g":-0.05},{"t":0.1098,"g":0.2},{"t":0.1146,"g":0.03},{"t":0.1216,"g":-0.46},{"t":0.1286,"g":0.2},{"t":0.1357,"g":-0.13},{"t":0.143,"g":-0.05},{"t":0.148,"g":0.2},{"t":0.153,"g":-0.2},{"t":0.158,"g":0.2},{"t":0.162,"g":-0.1},{"t":0.167,"g":0.3},{"t":0.172,"g":-0.1},{"t":0.176,"g":0.25},{"t":0.18,"g":-0.2},{"t":0.185,"g":0.15},{"t":0.19,"g":-0.15},{"t":0.194,"g":0.25},{"t":0.198,"g":-0.15},{"t":0.203,"g":0.3},{"t":0.207,"g":-0.05},{"t":0.212,"g":0.2},{"t":0.216,"g":-0.1},{"t":0.22,"g":0.35},{"t":0.225,"g":-0.1},{"t":0.23,"g":0.3},{"t":0.235,"g":-0.1},{"t":0.24,"g":0.2},{"t":0.245,"g":-0.1},{"t":0.25,"g":0.35},{"t":0.255,"g":-0.05},{"t":0.26,"g":0.2},{"t":0.265,"g":-0.1},{"t":0.27,"g":0.35},{"t":0.275,"g":-0.05},{"t":0.28,"g":0.2},{"t":0.285,"g":-0.1},{"t":0.29,"g":0.2},{"t":0.295,"g":-0.1},{"t":0.3,"g":0.15},{"t":0.305,"g":-0.1},{"t":0.31,"g":0.15},{"t":0.315,"g":-0.05},{"t":0.32,"g":0.1},{"t":0.325,"g":-0.08},{"t":0.33,"g":0.12},{"t":0.335,"g":-0.08},{"t":0.34,"g":0.1},{"t":0.345,"g":-0.05},{"t":0.35,"g":0.1},{"t":0.355,"g":-0.07},{"t":0.36,"g":0.06},{"t":0.365,"g":-0.09},{"t":0.37,"g":0.1},{"t":0.375,"g":-0.03},{"t":0.38,"g":0.07},{"t":0.385,"g":-0.08},{"t":0.39,"g":0.08},{"t":0.395,"g":-0.06},{"t":0.4,"g":0.05},{"t":0.405,"g":-0.07},{"t":0.41,"g":0.06},{"t":0.415,"g":-0.08},{"t":0.42,"g":0.04},{"t":0.425,"g":-0.06},{"t":0.43,"g":0.05},{"t":0.435,"g":-0.05},{"t":0.44,"g":0.06},{"t":0.445,"g":-0.04},{"t":0.45,"g":0.08},{"t":0.455,"g":-0.02},{"t":0.46,"g":0.07},{"t":0.465,"g":0},{"t":0.47,"g":0.12},{"t":0.475,"g":-0.04},{"t":0.48,"g":0.1},{"t":0.485,"g":-0.06},{"t":0.49,"g":0.1},{"t":0.495,"g":-0.05},{"t":0.5,"g":0.09},{"t":0.505,"g":-0.06},{"t":0.51,"g":0.12},{"t":0.515,"g":-0.03},{"t":0.52,"g":0.1},{"t":0.525,"g":0},{"t":0.53,"g":0.2},{"t":0.535,"g":0.02},{"t":0.54,"g":0.17},{"t":0.545,"g":0},{"t":0.55,"g":0.1},{"t":0.555,"g":-0.05},{"t":0.56,"g":0.08},{"t":0.565,"g":-0.07},{"t":0.57,"g":0.08},{"t":0.575,"g":-0.05},{"t":0.58,"g":0.06},{"t":0.585,"g":-0.05},{"t":0.59,"g":0.07},{"t":0.595,"g":-0.06},{"t":0.6,"g":0.05},{"t":0.605,"g":-0.05},{"t":0.61,"g":0.07},{"t":0.615,"g":-0.04},{"t":0.62,"g":0.06},{"t":0.625,"g":-0.05},{"t":0.63,"g":0.05},{"t":0.635,"g":-0.07},{"t":0.64,"g":0.05},{"t":0.645,"g":-0.08},{"t":0.65,"g":0.05},{"t":0.655,"g":-0.06},{"t":0.66,"g":0.07},{"t":0.665,"g":-0.05},{"t":0.67,"g":0.06},{"t":0.675,"g":-0.07},{"t":0.68,"g":0.05},{"t":0.685,"g":-0.06},{"t":0.69,"g":0.05},{"t":0.695,"g":-0.08},{"t":0.7,"g":0.04},{"t":0.705,"g":-0.06},{"t":0.71,"g":0.04},{"t":0.715,"g":-0.07},{"t":0.72,"g":0.03},{"t":0.725,"g":-0.08},{"t":0.73,"g":0.04},{"t":0.735,"g":-0.07},{"t":0.74,"g":0.02},{"t":0.745,"g":-0.09},{"t":0.75,"g":0.03},{"t":0.755,"g":-0.08},{"t":0.76,"g":0.03},{"t":0.765,"g":-0.06},{"t":0.77,"g":0.04},{"t":0.775,"g":-0.06},{"t":0.78,"g":0.04},{"t":0.785,"g":-0.07},{"t":0.79,"g":0.05},{"t":0.795,"g":-0.06},{"t":0.8,"g":0.04},{"t":0.805,"g":-0.05},{"t":0.81,"g":0.05},{"t":0.815,"g":-0.07},{"t":0.82,"g":0.03},{"t":0.825,"g":-0.07},{"t":0.83,"g":0.03},{"t":0.835,"g":-0.08},{"t":0.84,"g":0.01},{"t":0.845,"g":-0.09},{"t":0.85,"g":0.02},{"t":0.855,"g":-0.1},{"t":0.86,"g":0},{"t":0.865,"g":-0.1},{"t":0.87,"g":0},{"t":0.875,"g":-0.11},{"t":0.88,"g":-0.01},{"t":0.885,"g":-0.1},{"t":0.89,"g":0},{"t":0.895,"g":-0.09},{"t":0.9,"g":0.01},{"t":0.905,"g":-0.09},{"t":0.91,"g":0.01},{"t":0.915,"g":-0.08},{"t":0.92,"g":0.02},{"t":0.925,"g":-0.07},{"t":0.93,"g":0.03},{"t":0.935,"g":-0.06},{"t":0.94,"g":0.03},{"t":0.945,"g":-0.06},{"t":0.95,"g":0.04},{"t":0.955,"g":-0.05},{"t":0.96,"g":0.04},{"t":0.965,"g":-0.04},{"t":0.97,"g":0.05},{"t":0.975,"g":-0.04},{"t":0.98,"g":0.05},{"t":0.985,"g":-0.03},{"t":0.99,"g":0.06},{"t":0.995,"g":-0.03},{"t":1,"g":0.04}],
"callouts":[{"id":"pre","i":1,"u":404,"v":311},{"id":"pre","i":2,"u":12,"v":503},{"id":"pre","i":3,"u":12,"v":1058},{"id":"pre","i":4,"u":486,"v":1060},{"id":"pre","i":5,"u":486,"v":503},{"id":"pre","i":6,"u":593,"v":307},{"id":"crash","i":1,"u":926,"v":300},{"id":"crash","i":2,"u":581,"v":417},{"id":"crash","i":3,"u":581,"v":1066},{"id":"crash","i":4,"u":1365,"v":1066},{"id":"crash","i":5,"u":1365,"v":413},{"id":"crash","i":6,"u":1170,"v":304},{"id":"post","i":1,"u":1389,"v":303},{"id":"post","i":2,"u":1590,"v":512},{"id":"post","i":3,"u":1596,"v":1062},{"id":"post","i":4,"u":1826,"v":1062},{"id":"post","i":5,"u":1825,"v":510},{"id":"post","i":6,"u":1597,"v":302}]
},
"layer":[
{"layer":[
{"data":{"name":"bars"},"mark":{"type":"rect","stroke":"#000000","strokeWidth":2.5},"encoding":{"x":{"field":"from","type":"quantitative","scale":{"domain":[-20,0,1,11],"range":[73,858,1222,1690]}},"x2":{"field":"to"},"y":{"field":"top","type":"quantitative","scale":{"domain":[0,1080],"range":[0,1080]}},"y2":{"field":"bottom"},"color":{"field":"phase","type":"nominal","scale":{"domain":["Pre-Crash","Crash-Phase","Post-Crash"],"range":["#6584D4","#E9EEF8","#DBE8F3"]}}}},
{"data":{"name":"drops"},"mark":{"type":"rule","color":"#000000","strokeWidth":1.5},"encoding":{"x":{"field":"t","type":"quantitative","scale":{"domain":[-20,0,1,11],"range":[73,858,1222,1690]}},"y":{"field":"v0","type":"quantitative","scale":{"domain":[0,1080],"range":[0,1080]}},"y2":{"field":"v1"}}},
{"data":{"name":"dims"},"mark":{"type":"rule","color":"#000000","strokeWidth":2.5},"encoding":{"x":{"field":"from","type":"quantitative","scale":{"domain":[-20,0,1,11],"range":[73,858,1222,1690]}},"x2":{"field":"to"},"y":{"field":"v","type":"quantitative","scale":{"domain":[0,1080],"range":[0,1080]}}}}
]},
{"layer":[
{"data":{"name":"trigger"},"mark":{"type":"rule","color":"#000000","strokeWidth":1.5},"encoding":{"x":{"field":"u","type":"quantitative","scale":{"domain":[0,1835],"range":[0,1835]}},"y":{"field":"v0","type":"quantitative","scale":{"domain":[0,1080],"range":[0,1080]}},"y2":{"field":"v1"}}},
{"data":{"name":"heads"},"mark":{"type":"area","orient":"vertical","color":"#000000"},"encoding":{"x":{"field":"u","type":"quantitative","scale":{"domain":[0,1835],"range":[0,1835]}},"y":{"field":"lo","type":"quantitative","scale":{"domain":[0,1080],"range":[0,1080]}},"y2":{"field":"hi"},"detail":{"field":"id"}}},
{"data":{"name":"braces"},"mark":{"type":"line","color":"#000000","strokeWidth":1.8},"encoding":{"x":{"field":"u","type":"quantitative","scale":{"domain":[0,1835],"range":[0,1835]}},"y":{"field":"v","type":"quantitative","scale":{"domain":[0,1080],"range":[0,1080]}},"detail":{"field":"id"}}},
{"data":{"name":"label26"},"mark":{"type":"text","fontSize":26,"color":"#1A3388","align":"center","baseline":"middle"},"encoding":{"x":{"field":"u","type":"quantitative","scale":{"domain":[0,1835],"range":[0,1835]}},"y":{"field":"v","type":"quantitative","scale":{"domain":[0,1080],"range":[0,1080]}},"text":{"field":"label"}}},
{"data":{"name":"label37"},"mark":{"type":"text","fontSize":37,"color":"#1A3388","align":"center","baseline":"middle"},"encoding":{"x":{"field":"u","type":"quantitative","scale":{"domain":[0,1835],"range":[0,1835]}},"y":{"field":"v","type":"quantitative","scale":{"domain":[0,1080],"range":[0,1080]}},"text":{"field":"label"}}}
]},
{"layer":[
{"data":{"name":"frames"},"transform":[{"filter":"datum.id=='L'"}],"mark":{"type":"rect","fill":"#F0F0F0","stroke":"#000000","strokeWidth":2},"encoding":{"x":{"field":"u0","type":"quantitative","scale":{"domain":[0,1835],"range":[0,1835]}},"x2":{"field":"u1"},"y":{"field":"v0","type":"quantitative","scale":{"domain":[0,1080],"range":[0,1080]}},"y2":{"field":"v1"}}},
{"data":{"name":"rectsL"},"mark":{"type":"rect"},"encoding":{"x":{"field":"u0","type":"quantitative","scale":{"domain":[0,1835],"range":[0,1835]}},"x2":{"field":"u1"},"y":{"field":"v0","type":"quantitative","scale":{"domain":[0,1080],"range":[0,1080]}},"y2":{"field":"v1"},"color":{"field":"part","type":"nominal","scale":{"domain":["plot","field","button","black","red","blue","green","magenta","teal"],"range":["#FFFFFF","#F8F8F8","#DDDDDD","#000000","#C00000","#0000C0","#00C000","#C000C0","#00C0C0"]}}}},
{"data":{"name":"sepsL"},"mark":{"type":"rule","color":"#888888","strokeWidth":1},"encoding":{"x":{"field":"u","type":"quantitative","scale":{"domain":[0,1835],"range":[0,1835]}},"y":{"datum":472,"type":"quantitative","scale":{"domain":[0,1080],"range":[0,1080]}},"y2":{"datum":483}}},
{"data":{"name":"textL"},"transform":[{"filter":"datum.tone=='grey'"}],"mark":{"type":"text","fontSize":7.5,"color":"#AAAAAA","align":"left","baseline":"middle"},"encoding":{"x":{"field":"u","type":"quantitative","scale":{"domain":[0,1835],"range":[0,1835]}},"y":{"field":"v","type":"quantitative","scale":{"domain":[0,1080],"range":[0,1080]}},"text":{"field":"label"}}},
{"data":{"name":"textL"},"transform":[{"filter":"datum.tone=='dark'"}],"mark":{"type":"text","fontSize":7.5,"color":"#444444","align":"left","baseline":"middle"},"encoding":{"x":{"field":"u","type":"quantitative","scale":{"domain":[0,1835],"range":[0,1835]}},"y":{"field":"v","type":"quantitative","scale":{"domain":[0,1080],"range":[0,1080]}},"text":{"field":"label"}}}
]},
{"layer":[
{"data":{"name":"longTicks"},"mark":{"type":"rule","strokeWidth":1},"encoding":{"x":{"field":"t","type":"quantitative","scale":{"domain":[-20,0],"range":[38,492]}},"y":{"datum":4,"type":"quantitative","scale":{"domain":[-4,4],"range":[1058,502]}},"y2":{"datum":-4},"color":{"field":"kind","type":"nominal","scale":{"domain":["major","minor"],"range":["#DFDFDF","#F6F6F6"]}}}},
{"data":{"name":"longY"},"mark":{"type":"rule","strokeWidth":1},"encoding":{"y":{"field":"g","type":"quantitative","scale":{"domain":[-4,4],"range":[1058,502]}},"x":{"datum":-20,"type":"quantitative","scale":{"domain":[-20,0],"range":[38,492]}},"x2":{"datum":2.7},"color":{"field":"kind","type":"nominal","scale":{"domain":["major","minor"],"range":["#DFDFDF","#F6F6F6"]}}}},
{"data":{"name":"longTicks"},"transform":[{"filter":"datum.row=='low' && datum.t<=2.5"}],"mark":{"type":"rule","color":"#777777","strokeWidth":1},"encoding":{"x":{"field":"t","type":"quantitative","scale":{"domain":[-20,0],"range":[38,492]}},"y":{"datum":-4.04,"type":"quantitative","scale":{"domain":[-4,4],"range":[1058,502]}},"y2":{"datum":-4.14}}},
{"data":{"name":"recPale"},"mark":{"type":"line","color":"#E89090","strokeWidth":1.2},"encoding":{"x":{"field":"t","type":"quantitative","scale":{"domain":[-20,0],"range":[38,492]}},"y":{"field":"g","type":"quantitative","scale":{"domain":[-4,4],"range":[1058,502]}}}},
{"data":{"name":"recGreen"},"mark":{"type":"line","color":"#55CC55","strokeWidth":1},"encoding":{"x":{"field":"t","type":"quantitative","scale":{"domain":[-20,0],"range":[38,492]}},"y":{"field":"g","type":"quantitative","scale":{"domain":[-4,4],"range":[1058,502]}}}},
{"data":{"name":"recBlue"},"mark":{"type":"line","color":"#5050DD","strokeWidth":1},"encoding":{"x":{"field":"t","type":"quantitative","scale":{"domain":[-20,0],"range":[38,492]}},"y":{"field":"g","type":"quantitative","scale":{"domain":[-4,4],"range":[1058,502]}}}},
{"data":{"name":"recFlat"},"mark":{"type":"line","color":"#6A3F9A","strokeWidth":1.2,"strokeDash":[6,4]},"encoding":{"x":{"field":"t","type":"quantitative","scale":{"domain":[-20,0],"range":[38,492]}},"y":{"field":"g","type":"quantitative","scale":{"domain":[-4,4],"range":[1058,502]}}}},
{"data":{"name":"envG"},"mark":{"type":"area","orient":"vertical","color":"#00B400"},"encoding":{"x":{"field":"t","type":"quantitative","scale":{"domain":[-20,0],"range":[38,492]}},"y":{"field":"lo","type":"quantitative","scale":{"domain":[-4,4],"range":[1058,502]}},"y2":{"field":"hi"}}},
{"data":{"name":"envR"},"mark":{"type":"area","orient":"vertical","color":"#C80000"},"encoding":{"x":{"field":"t","type":"quantitative","scale":{"domain":[-20,0],"range":[38,492]}},"y":{"field":"lo","type":"quantitative","scale":{"domain":[-4,4],"range":[1058,502]}},"y2":{"field":"hi"}}},
{"data":{"name":"envB"},"mark":{"type":"area","orient":"vertical","color":"#0000C8"},"encoding":{"x":{"field":"t","type":"quantitative","scale":{"domain":[-20,0],"range":[38,492]}},"y":{"field":"lo","type":"quantitative","scale":{"domain":[-4,4],"range":[1058,502]}},"y2":{"field":"hi"}}},
{"data":{"name":"longY"},"mark":{"type":"text","fontSize":8,"color":"#555555","align":"right","baseline":"middle"},"encoding":{"y":{"field":"g","type":"quantitative","scale":{"domain":[-4,4],"range":[1058,502]}},"x":{"datum":-20.42,"type":"quantitative","scale":{"domain":[-20,0],"range":[38,492]}},"text":{"field":"lab"}}},
{"data":{"name":"longTicks"},"transform":[{"filter":"datum.row=='hi' && datum.t<=2.5"}],"mark":{"type":"text","fontSize":8,"color":"#555555","align":"center","baseline":"middle"},"encoding":{"x":{"field":"t","type":"quantitative","scale":{"domain":[-20,0],"range":[38,492]}},"y":{"datum":-4.115,"type":"quantitative","scale":{"domain":[-4,4],"range":[1058,502]}},"text":{"field":"t","type":"nominal"}}},
{"data":{"name":"longTicks"},"transform":[{"filter":"datum.row=='low' && datum.t<=2.5"}],"mark":{"type":"text","fontSize":8,"color":"#555555","align":"center","baseline":"middle"},"encoding":{"x":{"field":"t","type":"quantitative","scale":{"domain":[-20,0],"range":[38,492]}},"y":{"datum":-4.19,"type":"quantitative","scale":{"domain":[-4,4],"range":[1058,502]}},"text":{"field":"t","type":"nominal"}}}
]},
{"layer":[
{"data":{"name":"frames"},"transform":[{"filter":"datum.id=='R'"}],"mark":{"type":"rect","fill":"#F0F0F0","stroke":"#000000","strokeWidth":2},"encoding":{"x":{"field":"u0","type":"quantitative","scale":{"domain":[0,1835],"range":[0,1835]}},"x2":{"field":"u1"},"y":{"field":"v0","type":"quantitative","scale":{"domain":[0,1080],"range":[0,1080]}},"y2":{"field":"v1"}}},
{"data":{"name":"rectsR"},"mark":{"type":"rect"},"encoding":{"x":{"field":"u0","type":"quantitative","scale":{"domain":[0,1835],"range":[0,1835]}},"x2":{"field":"u1"},"y":{"field":"v0","type":"quantitative","scale":{"domain":[0,1080],"range":[0,1080]}},"y2":{"field":"v1"},"color":{"field":"part","type":"nominal","scale":{"domain":["plot","teal"],"range":["#FFFFFF","#00C0C0"]}}}},
{"data":{"name":"sepsR"},"mark":{"type":"rule","color":"#888888","strokeWidth":1},"encoding":{"x":{"field":"u","type":"quantitative","scale":{"domain":[0,1835],"range":[0,1835]}},"y":{"datum":480,"type":"quantitative","scale":{"domain":[0,1080],"range":[0,1080]}},"y2":{"datum":490}}},
{"data":{"name":"textR"},"transform":[{"filter":"datum.tone=='grey'"}],"mark":{"type":"text","fontSize":7.5,"color":"#AAAAAA","align":"left","baseline":"middle"},"encoding":{"x":{"field":"u","type":"quantitative","scale":{"domain":[0,1835],"range":[0,1835]}},"y":{"field":"v","type":"quantitative","scale":{"domain":[0,1080],"range":[0,1080]}},"text":{"field":"label"}}},
{"data":{"name":"textR"},"transform":[{"filter":"datum.tone=='dark'"}],"mark":{"type":"text","fontSize":7.5,"color":"#444444","align":"left","baseline":"middle"},"encoding":{"x":{"field":"u","type":"quantitative","scale":{"domain":[0,1835],"range":[0,1835]}},"y":{"field":"v","type":"quantitative","scale":{"domain":[0,1080],"range":[0,1080]}},"text":{"field":"label"}}}
]},
{"layer":[
{"data":{"name":"longTicks"},"transform":[{"filter":"datum.t>=-8.5"}],"mark":{"type":"rule","strokeWidth":1},"encoding":{"x":{"field":"t","type":"quantitative","scale":{"domain":[0,10],"range":[1571,1800]}},"y":{"datum":4.02,"type":"quantitative","scale":{"domain":[-4,4],"range":[1065,509]}},"y2":{"datum":-4},"color":{"field":"kind","type":"nominal","scale":{"domain":["major","minor"],"range":["#DFDFDF","#F6F6F6"]}}}},
{"data":{"name":"longY"},"mark":{"type":"rule","strokeWidth":1},"encoding":{"y":{"field":"g","type":"quantitative","scale":{"domain":[-4,4],"range":[1065,509]}},"x":{"datum":-8.65,"type":"quantitative","scale":{"domain":[0,10],"range":[1571,1800]}},"x2":{"datum":11.1},"color":{"field":"kind","type":"nominal","scale":{"domain":["major","minor"],"range":["#DFDFDF","#F6F6F6"]}}}},
{"data":{"name":"longTicks"},"transform":[{"filter":"datum.row=='low' && datum.t>=-8.5"}],"mark":{"type":"rule","color":"#777777","strokeWidth":1},"encoding":{"x":{"field":"t","type":"quantitative","scale":{"domain":[0,10],"range":[1571,1800]}},"y":{"datum":-4.01,"type":"quantitative","scale":{"domain":[-4,4],"range":[1065,509]}},"y2":{"datum":-4.1}}},
{"data":{"name":"recPale"},"mark":{"type":"line","color":"#E89090","strokeWidth":1.2},"encoding":{"x":{"field":"t","type":"quantitative","scale":{"domain":[0,10],"range":[1571,1800]}},"y":{"field":"g","type":"quantitative","scale":{"domain":[-4,4],"range":[1065,509]}}}},
{"data":{"name":"recGreen"},"mark":{"type":"line","color":"#55CC55","strokeWidth":1},"encoding":{"x":{"field":"t","type":"quantitative","scale":{"domain":[0,10],"range":[1571,1800]}},"y":{"field":"g","type":"quantitative","scale":{"domain":[-4,4],"range":[1065,509]}}}},
{"data":{"name":"recBlue"},"mark":{"type":"line","color":"#5050DD","strokeWidth":1},"encoding":{"x":{"field":"t","type":"quantitative","scale":{"domain":[0,10],"range":[1571,1800]}},"y":{"field":"g","type":"quantitative","scale":{"domain":[-4,4],"range":[1065,509]}}}},
{"data":{"name":"recFlat"},"mark":{"type":"line","color":"#6A3F9A","strokeWidth":1.2,"strokeDash":[6,4]},"encoding":{"x":{"field":"t","type":"quantitative","scale":{"domain":[0,10],"range":[1571,1800]}},"y":{"field":"g","type":"quantitative","scale":{"domain":[-4,4],"range":[1065,509]}}}},
{"data":{"name":"envG"},"mark":{"type":"area","orient":"vertical","color":"#00B400"},"encoding":{"x":{"field":"t","type":"quantitative","scale":{"domain":[0,10],"range":[1571,1800]}},"y":{"field":"lo","type":"quantitative","scale":{"domain":[-4,4],"range":[1065,509]}},"y2":{"field":"hi"}}},
{"data":{"name":"envR"},"mark":{"type":"area","orient":"vertical","color":"#C80000"},"encoding":{"x":{"field":"t","type":"quantitative","scale":{"domain":[0,10],"range":[1571,1800]}},"y":{"field":"lo","type":"quantitative","scale":{"domain":[-4,4],"range":[1065,509]}},"y2":{"field":"hi"}}},
{"data":{"name":"envB"},"mark":{"type":"area","orient":"vertical","color":"#0000C8"},"encoding":{"x":{"field":"t","type":"quantitative","scale":{"domain":[0,10],"range":[1571,1800]}},"y":{"field":"lo","type":"quantitative","scale":{"domain":[-4,4],"range":[1065,509]}},"y2":{"field":"hi"}}},
{"data":{"name":"longTicks"},"transform":[{"filter":"datum.row=='hi' && datum.t>=-8.5"}],"mark":{"type":"text","fontSize":8,"color":"#555555","align":"center","baseline":"middle"},"encoding":{"x":{"field":"t","type":"quantitative","scale":{"domain":[0,10],"range":[1571,1800]}},"y":{"datum":-4.1,"type":"quantitative","scale":{"domain":[-4,4],"range":[1065,509]}},"text":{"field":"t","type":"nominal"}}},
{"data":{"name":"longTicks"},"transform":[{"filter":"datum.row=='low' && datum.t>=-8.5"}],"mark":{"type":"text","fontSize":8,"color":"#555555","align":"center","baseline":"middle"},"encoding":{"x":{"field":"t","type":"quantitative","scale":{"domain":[0,10],"range":[1571,1800]}},"y":{"datum":-4.17,"type":"quantitative","scale":{"domain":[-4,4],"range":[1065,509]}},"text":{"field":"t","type":"nominal"}}}
]},
{"layer":[
{"data":{"name":"frames"},"transform":[{"filter":"datum.id=='M'"}],"mark":{"type":"rect","fill":"#F0F0F0","stroke":"#000000","strokeWidth":2},"encoding":{"x":{"field":"u0","type":"quantitative","scale":{"domain":[0,1835],"range":[0,1835]}},"x2":{"field":"u1"},"y":{"field":"v0","type":"quantitative","scale":{"domain":[0,1080],"range":[0,1080]}},"y2":{"field":"v1"}}},
{"data":{"name":"rectsM"},"mark":{"type":"rect"},"encoding":{"x":{"field":"u0","type":"quantitative","scale":{"domain":[0,1835],"range":[0,1835]}},"x2":{"field":"u1"},"y":{"field":"v0","type":"quantitative","scale":{"domain":[0,1080],"range":[0,1080]}},"y2":{"field":"v1"},"color":{"field":"part","type":"nominal","scale":{"domain":["plot","field","button","black","red","blue","green","magenta","teal"],"range":["#FFFFFF","#F8F8F8","#DDDDDD","#555555","#C00000","#0000C0","#00C000","#C000C0","#00C0C0"]}}}},
{"data":{"name":"sepsM"},"mark":{"type":"rule","color":"#777777","strokeWidth":1},"encoding":{"x":{"field":"u","type":"quantitative","scale":{"domain":[0,1835],"range":[0,1835]}},"y":{"datum":377,"type":"quantitative","scale":{"domain":[0,1080],"range":[0,1080]}},"y2":{"datum":390}}},
{"data":{"name":"textM"},"transform":[{"filter":"datum.tone=='grey'"}],"mark":{"type":"text","fontSize":8,"color":"#AAAAAA","align":"left","baseline":"middle"},"encoding":{"x":{"field":"u","type":"quantitative","scale":{"domain":[0,1835],"range":[0,1835]}},"y":{"field":"v","type":"quantitative","scale":{"domain":[0,1080],"range":[0,1080]}},"text":{"field":"label"}}},
{"data":{"name":"textM"},"transform":[{"filter":"datum.tone=='dark'"}],"mark":{"type":"text","fontSize":8,"color":"#333333","align":"left","baseline":"middle"},"encoding":{"x":{"field":"u","type":"quantitative","scale":{"domain":[0,1835],"range":[0,1835]}},"y":{"field":"v","type":"quantitative","scale":{"domain":[0,1080],"range":[0,1080]}},"text":{"field":"label"}}}
]},
{"layer":[
{"data":{"name":"midTicks"},"mark":{"type":"rule","strokeWidth":1},"encoding":{"x":{"field":"t","type":"quantitative","scale":{"domain":[0,1],"range":[652,1362]}},"y":{"datum":8,"type":"quantitative","scale":{"domain":[-8,8],"range":[1064,412]}},"y2":{"datum":-8.05},"color":{"field":"kind","type":"nominal","scale":{"domain":["major","minor"],"range":["#DADADA","#F2F2F2"]}}}},
{"data":{"name":"midY"},"mark":{"type":"rule","strokeWidth":1},"encoding":{"y":{"field":"g","type":"quantitative","scale":{"domain":[-8,8],"range":[1064,412]}},"x":{"datum":-0.1,"type":"quantitative","scale":{"domain":[0,1],"range":[652,1362]}},"x2":{"datum":1},"color":{"field":"kind","type":"nominal","scale":{"domain":["major","minor"],"range":["#DADADA","#F2F2F2"]}}}},
{"data":{"name":"midGreen"},"mark":{"type":"line","color":"#10C010","strokeWidth":1.1,"opacity":0.85},"encoding":{"x":{"field":"t","type":"quantitative","scale":{"domain":[0,1],"range":[652,1362]}},"y":{"field":"g","type":"quantitative","scale":{"domain":[-8,8],"range":[1064,412]}}}},
{"data":{"name":"midRed"},"mark":{"type":"line","color":"#CC1A1A","strokeWidth":1.1,"opacity":0.85},"encoding":{"x":{"field":"t","type":"quantitative","scale":{"domain":[0,1],"range":[652,1362]}},"y":{"field":"g","type":"quantitative","scale":{"domain":[-8,8],"range":[1064,412]}}}},
{"data":{"name":"midBlue"},"mark":{"type":"line","color":"#1010C8","strokeWidth":1.1,"opacity":0.85},"encoding":{"x":{"field":"t","type":"quantitative","scale":{"domain":[0,1],"range":[652,1362]}},"y":{"field":"g","type":"quantitative","scale":{"domain":[-8,8],"range":[1064,412]}}}},
{"data":{"name":"midY"},"mark":{"type":"text","fontSize":8.5,"color":"#333333","align":"right","baseline":"middle"},"encoding":{"y":{"field":"g","type":"quantitative","scale":{"domain":[-8,8],"range":[1064,412]}},"x":{"datum":-0.114,"type":"quantitative","scale":{"domain":[0,1],"range":[652,1362]}},"text":{"field":"lab"}}},
{"data":{"name":"midTicks"},"transform":[{"filter":"datum.row=='hi'"}],"mark":{"type":"text","fontSize":8,"color":"#333333","align":"center","baseline":"middle"},"encoding":{"x":{"field":"t","type":"quantitative","scale":{"domain":[0,1],"range":[652,1362]}},"y":{"datum":-8.2,"type":"quantitative","scale":{"domain":[-8,8],"range":[1064,412]}},"text":{"field":"t","type":"nominal"}}},
{"data":{"name":"midTicks"},"transform":[{"filter":"datum.row=='low'"}],"mark":{"type":"text","fontSize":8,"color":"#333333","align":"center","baseline":"middle"},"encoding":{"x":{"field":"t","type":"quantitative","scale":{"domain":[0,1],"range":[652,1362]}},"y":{"datum":-8.33,"type":"quantitative","scale":{"domain":[-8,8],"range":[1064,412]}},"text":{"field":"t","type":"nominal"}}}
]},
{"layer":[
{"data":{"name":"callouts"},"mark":{"type":"line","strokeWidth":8.5,"strokeJoin":"miter","strokeCap":"butt"},"encoding":{"x":{"field":"u","type":"quantitative","scale":{"domain":[0,1835],"range":[0,1835]}},"y":{"field":"v","type":"quantitative","scale":{"domain":[0,1080],"range":[0,1080]}},"order":{"field":"i"},"color":{"field":"id","type":"nominal","scale":{"domain":["pre","crash","post"],"range":["#4169E1","#FF7580","#96BFE3"]}}}}
]}
]}
